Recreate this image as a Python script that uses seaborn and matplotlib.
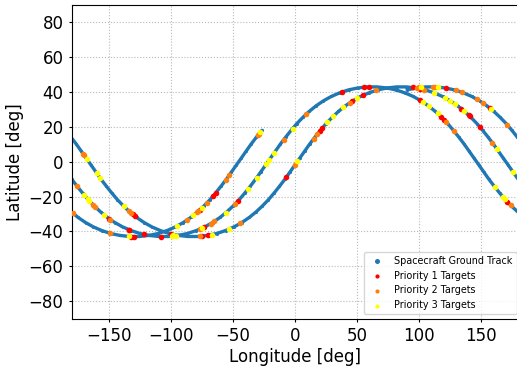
import numpy as np
import pandas as pd
import matplotlib
matplotlib.use("Agg")
import matplotlib.pyplot as plt
import seaborn as sns

# ---- ground track: one orbit template (argument of latitude, lon offset from node, latitude) ----
U_DEG = list(range(3, 360, 6))
ORBIT_DLON = [2.0, 6.0, 10.1, 14.3, 18.7, 23.2, 28.1, 33.2, 38.7, 44.7, 51.0, 57.8, 65.0, 72.5, 80.2,
              88.0, 95.7, 103.2, 110.4, 117.2, 123.5, 129.5, 135.0, 140.1, 145.0, 149.5, 153.9, 158.1, 162.2, 166.2,
              170.2, 174.2, 178.3, 182.5, 186.9, 191.4, 196.3, 201.4, 206.9, 212.9, 219.2, 226.0, 233.2, 240.7, 248.4,
              256.2, 263.9, 271.4, 278.6, 285.4, 291.7, 297.7, 303.2, 308.3, 313.2, 317.7, 322.1, 326.3, 330.4, 334.4]
ORBIT_LAT = [2.0, 6.1, 10.2, 14.1, 18.0, 21.8, 25.4, 28.8, 32.0, 34.9, 37.4, 39.5, 41.2, 42.3, 42.9,
             42.9, 42.3, 41.2, 39.5, 37.4, 34.9, 32.0, 28.8, 25.4, 21.8, 18.0, 14.1, 10.2, 6.1, 2.0,
             -2.0, -6.1, -10.2, -14.1, -18.0, -21.8, -25.4, -28.8, -32.0, -34.9, -37.4, -39.5, -41.2, -42.3, -42.9,
             -42.9, -42.3, -41.2, -39.5, -37.4, -34.9, -32.0, -28.8, -25.4, -21.8, -18.0, -14.1, -10.2, -6.1, -2.0]
# ascending-node longitude of each pass and the part of each pass that was flown
NODE_LON = [25.4, 1.8, -21.8, -45.4]
PASS_U_START = [75, 3, 3, 3]
PASS_U_END = [357, 357, 357, 27]

# ---- targets ----
P1_LON = [-150, -131, -129, -134, -134, -132, -130, -122, -108, -100, -77, -66, -64, -73, -75, -70, -46, -7, 22, 20,
          38, 56, 60, 46, 55, 95, 101, 101, 122, 118, 120, 134, 140, 141, 149, 157, 171]
P1_LAT = [-32.7, -30.1, -31.3, -39.0, -39.0, -43.0, -43.0, -41.7, -43.0, -41.5, -27.8, -19.7, -18.0, -37.5, -42.7, -42.3,
          -22.6, -8.9, 19.3, 17.6, 40.1, 42.8, 43.0, 34.7, 38.2, 42.6, 41.9, 35.2, 42.2, 25.6, 24.2, 30.5, 26.7, 26.1,
          20.0, 30.8, -22.9]
P2_LON = [-171, -170, -176, -163, -161, -149, -179, -149, -134, -132, -87, -79, -78, -71, -77, -68, -65, -77, -56, -53,
          -30, -29, -48, -44, -9, 0, 9, 15, 18, 44, 65, 98, 100, 104, 111, 113, 122, 128, 130, 135, 147, 152, 159, 171, 174]
P2_LAT = [4.7, 3.7, -13.9, -24.6, -26.1, -33.2, -29.7, -41.1, -28.3, -29.5, -33.5, -29.1, -28.4, -23.6, -38.8, -35.6,
          -34.2, -42.9, -10.6, -7.7, 15.1, 16.0, -24.1, -35.4, 12.7, -1.8, 27.3, 13.1, 15.9, 33.8, 40.9, 42.4, 42.6, 41.4,
          43.0, 42.9, 22.7, 17.8, 40.9, 39.8, 35.7, 33.5, 11.0, 21.3, -25.1]
P3_LON = [-168, -160, -157, -170, -167, -166, -154, -138, -134, -99, -98, -96, -95, -82, -75, -75, -67, -53, -56, -38,
          -31, -28, -23, -21, -17, -2, 2, 26, 31, 39, 50, 102, 115, 112, 121, 125, 129, 136, 103, 108, 115, 158, 163, 176,
          161, 168, 169]
P3_LAT = [1.6, -6.5, -9.5, -19.2, -21.6, -22.4, -30.5, -25.6, -42.9, -42.8, -41.8, -42.5, -36.9, -30.8, -26.5, -38.2,
          -41.9, -38.7, -29.4, -15.9, -9.3, 16.9, -1.2, 0.8, 4.9, 19.0, 0.2, 22.6, 26.2, 31.2, 36.4, 42.7, 42.9, 39.6, 36.7,
          35.0, 33.2, 29.3, 34.3, 31.8, 27.7, 30.3, 7.1, -6.1, -14.4, -20.5, -21.3]

X_TICKS = [-150, -100, -50, 0, 50, 100, 150]
Y_TICKS = [-80, -60, -40, -20, 0, 20, 40, 60, 80]

# continuous (unwrapped) track built from the passes
tl, tb = [], []
for n, node in enumerate(NODE_LON):
    for u, dl, la in zip(U_DEG, ORBIT_DLON, ORBIT_LAT):
        if PASS_U_START[n] <= u <= PASS_U_END[n]:
            tl.append(node + 360 * n + dl)
            tb.append(la)
tl = np.array(tl); tb = np.array(tb)
shifts = range(4)
track = pd.DataFrame({"lon": np.concatenate([tl - 360 * k for k in shifts]),
                      "lat": np.concatenate([tb for k in shifts])})

plt.rcParams["font.family"] = ["DejaVu Sans"]
fig = plt.figure(figsize=(5.17, 3.71), dpi=100)
ax = fig.add_axes([71.8 / 517, (371 - 318.6) / 371, 446.4 / 517, (318.6 - 4.8) / 371])

blue = "#1f77b4"
for k in shifts:
    ax.plot(tl - 360 * k, tb, color=blue, lw=2.4, zorder=2, solid_capstyle="round")
sns.scatterplot(data=track, x="lon", y="lat", color=blue, s=5, linewidth=0, ax=ax, zorder=2,
                label="Spacecraft Ground Track")
sns.scatterplot(x=P1_LON, y=P1_LAT, color="red", s=16, linewidth=0, ax=ax, zorder=3, label="Priority 1 Targets")
sns.scatterplot(x=P2_LON, y=P2_LAT, color="#ff7f0e", s=16, linewidth=0, ax=ax, zorder=3, label="Priority 2 Targets")
sns.scatterplot(x=P3_LON, y=P3_LAT, color="yellow", s=16, linewidth=0, ax=ax, zorder=3, label="Priority 3 Targets")

ax.set_xlim(-180, 180)
ax.set_ylim(-90, 90)
ax.set_xticks(X_TICKS)
ax.set_yticks(Y_TICKS)
ax.tick_params(labelsize=12, length=2.5)
ax.set_xlabel("Longitude [deg]", fontsize=12, labelpad=2.5)
ax.set_ylabel("Latitude [deg]", fontsize=12, labelpad=3)
ax.grid(True, ls=":", color="0.72", lw=0.8)

leg = ax.legend(loc="lower right", fontsize=6.9, borderaxespad=0, bbox_to_anchor=(0.9966, 0.0147))
hs = leg.legend_handles
hs[0].set_sizes([13])
for h in hs[1:]:
    h.set_sizes([9])

fig.savefig("out.png", dpi=100)
